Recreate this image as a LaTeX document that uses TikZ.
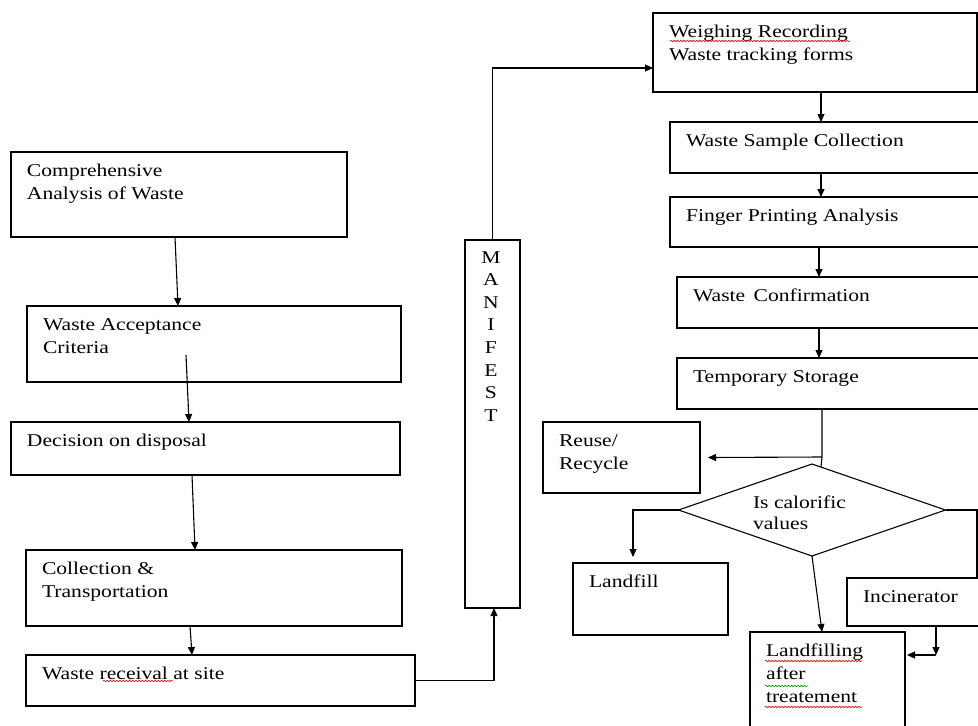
\documentclass[tikz,border=0pt]{standalone}
\usepackage{fontspec}
\setmainfont{Liberation Serif}[FakeStretch=1.2]
\usetikzlibrary{arrows.meta,shapes.geometric,decorations.pathmorphing,calc}
\newcommand\dgfont{\fontsize{18}{23}\selectfont}
\newcommand\mybox[6]{\node[box, minimum width={#4-#2}, minimum height={#5-#3},
  label={[lbl]north west:{\strut #6}}] (#1) at ({(#2+#4)/2},{(#3+#5)/2}) {};}
\begin{document}
\begin{tikzpicture}[x=1pt,y=-1pt,
  box/.style={draw, line width=1.1pt, inner sep=0pt, outer sep=0pt},
  lbl/.style={anchor=north west, inner sep=0pt, outer sep=0pt, align=left, font=\dgfont, xshift=16pt, yshift=-8pt},
  ln/.style={line width=1.1pt},
  arr/.style={ln, -{Triangle[length=8pt,width=7pt]}},
  sq/.style={line width=0.6pt, decorate, decoration={snake, amplitude=0.8pt, segment length=3.2pt}}]
\useasboundingbox (0,0) rectangle (978,726);
\clip (0,0) rectangle (978,726);
\fill[white] (0,0) rectangle (978,726);

% left column
\mybox{comp}{11}{152}{347}{237}{Comprehensive\\Analysis of Waste}
\mybox{wac}{27}{306}{401}{382}{Waste Acceptance\\Criteria}
\mybox{dec}{11}{422}{400}{475}{Decision on disposal}
\mybox{coll}{26}{550}{402}{626}{Collection \&\\Transportation}
\mybox{recv}{26}{655}{415}{706}{Waste receival at site}

% manifest
\node[box, minimum width=55pt, minimum height=368pt,
  label={[anchor=north, inner sep=0pt, outer sep=0pt, align=center,
    font=\fontsize{18}{22.6}\selectfont, xshift=-1.5pt, yshift=-7.2pt]north:{\strut M\\A\\N\\I\\F\\E\\S\\T}}]
  (man) at (492.5,424) {};

% right column
\mybox{weigh}{653}{13}{977}{92}{Weighing Recording\\Waste tracking forms}
\mybox{samp}{670}{122}{995}{173}{Waste Sample Collection}
\mybox{fing}{670}{197}{995}{247}{Finger Printing Analysis}
\mybox{conf}{677}{277}{995}{328}{Waste \,Confirmation}
\mybox{temp}{677}{358}{995}{409}{Temporary Storage}
\mybox{reuse}{543}{422}{700}{493}{Reuse/\\Recycle}
\mybox{lfill}{573}{563}{728}{635}{Landfill}
\mybox{incin}{847}{578}{995}{626}{Incinerator}
\mybox{lfat}{750}{632}{905}{745}{Landfilling\\after\\treatement}

\node[draw, diamond, line width=1.1pt, minimum width=267pt, minimum height=92pt,
  inner sep=0pt, outer sep=0pt,
  label={[anchor=north west, inner sep=0pt, outer sep=0pt, align=left,
    font=\fontsize{18}{21}\selectfont, xshift=7.75pt, yshift=-6.3pt]north west:{\strut Is calorific\\values}}]
  (dia) at (812,510) {};

% connectors left
\draw[arr] ([xshift=-4pt]comp.south) -- ([xshift=-36pt]wac.north);
\draw[arr] ([xshift=-28pt,yshift=-11pt]wac.center) -- ([xshift=-16.5pt]dec.north);
\draw[arr] ([xshift=-13.5pt]dec.south) -- ([xshift=-19pt]coll.north);
\draw[arr] ([xshift=-24pt]coll.south) -- ([xshift=-28.5pt]recv.north);
\draw[arr] (recv.east) -| ([xshift=1.5pt]man.south);
\draw[arr] (man.north) |- ([yshift=-15.5pt]weigh.west);

% connectors right
\draw[arr] ([xshift=6pt]weigh.south) -- ([xshift=-11.5pt]samp.north);
\draw[arr] ([xshift=-11.5pt]samp.south) -- ([xshift=-11.5pt]fing.north);
\draw[arr] ([xshift=-13.5pt]fing.south) -- ([xshift=-17pt]conf.north);
\draw[arr] ([xshift=-17pt]conf.south) -- ([xshift=-17pt]temp.north);
\coordinate (j) at (822,457);
\draw[ln] ([xshift=-14pt]temp.south) -- (j) -- ([xshift=9pt,yshift=-3pt]dia.north);
\draw[arr] (j) -- ([xshift=8pt]reuse.east);
\draw[arr] (dia.west) -| ([xshift=-17.5pt,yshift=6pt]lfill.north);
\draw[ln] (dia.east) -| ([xshift=56pt]incin.north);
\draw[arr] (dia.south) -- ([xshift=-5.5pt]lfat.north);
\coordinate (k) at (936,655);
\draw[arr] ([xshift=15pt]incin.south) -- (k);
\draw[arr] (k) -- ($(k -| lfat.east)+(2,0)$);

% spell-check marks
\draw[sq, red] (670,41) -- (850,41);
\draw[sq, red] (103,681) -- (173,681);
\draw[sq, red] (765,661) -- (862,661);
\draw[sq, green!60!black] (765,686) -- (808,686);
\draw[sq, red] (765,707) -- (862,707);
\end{tikzpicture}
\end{document}
